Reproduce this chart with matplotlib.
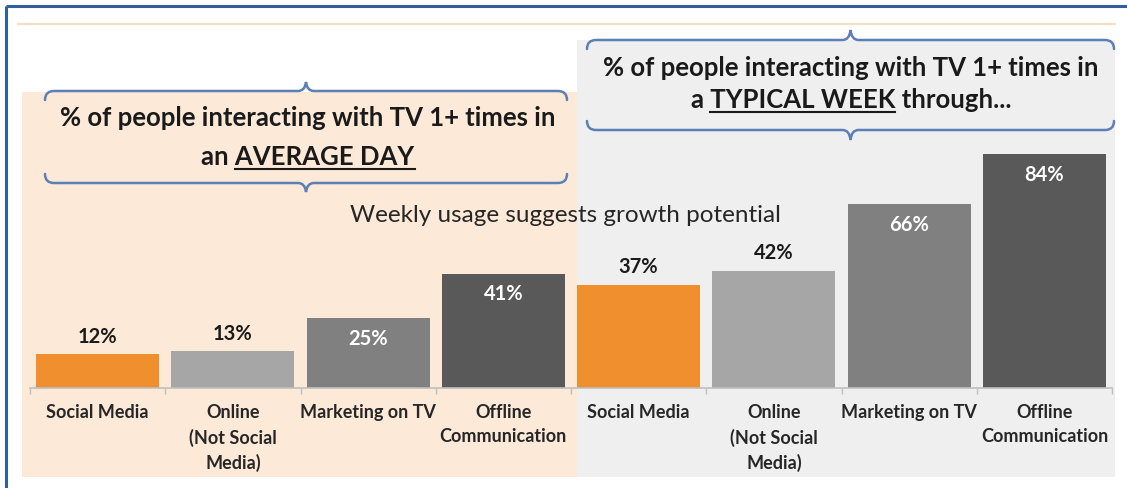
import matplotlib
matplotlib.use("Agg")
import matplotlib.pyplot as plt
from matplotlib.path import Path
from matplotlib.patches import PathPatch, Rectangle

# ---- data -------------------------------------------------------------
categories = [
    "Social Media", "Online\n(Not Social\nMedia)", "Marketing on TV",
    "Offline\nCommunication",
    "Social Media", "Online\n(Not Social\nMedia)", "Marketing on TV",
    "Offline\nCommunication",
]
values = [12, 13, 25, 41, 37, 42, 66, 84]
value_labels = ["12%", "13%", "25%", "41%", "37%", "42%", "66%", "84%"]
label_inside = [False, False, True, True, False, False, True, True]

day_title = ["% of people interacting with TV 1+ times in", "an ", "AVERAGE DAY"]
week_title = ["% of people interacting with TV 1+ times in", "a ", "TYPICAL WEEK", " through..."]
subtitle = "Weekly usage suggests growth potential"

# ---- styling ----------------------------------------------------------
ORANGE = "#EF8F2E"
bar_colors = [ORANGE, "#A6A6A6", "#808080", "#595959"] * 2
BG_DAY = "#FCE9D7"
BG_WEEK = "#EFEFF0"
BRACE = "#5B7FB6"
FRAME = "#2F5F9F"
TEXT = "#1A1A1A"
FONT = "Lato"

W, H = 1127, 488
fig = plt.figure(figsize=(W / 100, H / 100), dpi=100)
fig.patch.set_facecolor("white")

# pixel-space layer for backgrounds (behind) and annotations (in front)
bg = fig.add_axes([0, 0, 1, 1], zorder=0)
bg.set_xlim(0, W)
bg.set_ylim(H, 0)
bg.axis("off")

fg = fig.add_axes([0, 0, 1, 1], zorder=2)
fg.set_xlim(0, W)
fg.set_ylim(H, 0)
fg.axis("off")
fg.patch.set_alpha(0)

# frame and panels
bg.plot([6, 6], [6, H], color=FRAME, lw=2.2, solid_capstyle="butt")
bg.plot([6, W], [6, 6], color=FRAME, lw=2.2, solid_capstyle="butt")
bg.plot([18, 1115], [24, 24], color="#F6DFC4", lw=1.6)
bg.add_patch(Rectangle((577, 40), 1115 - 577, 477 - 40, color=BG_WEEK, lw=0))
bg.add_patch(Rectangle((22, 92), 577 - 22, 477 - 92, color=BG_DAY, lw=0))

# ---- bar chart ----------------------------------------------------------
x0_px, x1_px = 30, 1112
base_px, top_px = 387.5, 387.5 - 278
ax = fig.add_axes([x0_px / W, (H - base_px) / H,
                   (x1_px - x0_px) / W, (base_px - top_px) / H], zorder=1)
ax.patch.set_alpha(0)
pos = list(range(len(values)))
ax.bar(pos, values, width=0.91, color=bar_colors, zorder=2)
ax.set_xlim(-0.5, len(values) - 0.5)
ax.set_ylim(0, 100)
for s in ("top", "right", "left"):
    ax.spines[s].set_visible(False)
ax.spines["bottom"].set_color("#BFBFBF")
ax.spines["bottom"].set_linewidth(1.2)
ax.set_yticks([])
ax.set_xticks(pos)
ax.set_xticklabels(categories, fontsize=13, fontweight="bold", family=FONT,
                   color="#262626", linespacing=1.5, va="top")
ax.tick_params(axis="x", which="major", length=0, pad=12)
ax.set_xticks([p - 0.5 for p in pos] + [pos[-1] + 0.5], minor=True)
ax.tick_params(axis="x", which="minor", length=4, width=1.0, color="#BFBFBF",
               direction="out")

for p, v, lab, inside in zip(pos, values, value_labels, label_inside):
    if inside:
        ax.annotate(lab, (p, v), xytext=(0, -15), textcoords="offset points",
                    ha="center", va="center", fontsize=14.5, fontweight="bold",
                    family=FONT, color="white", zorder=3)
    else:
        ax.annotate(lab, (p, v), xytext=(0, 12.5), textcoords="offset points",
                    ha="center", va="center", fontsize=14.5, fontweight="bold",
                    family=FONT, color=TEXT, zorder=3)


# ---- curly braces -------------------------------------------------------
def brace(axis, xa, xb, y, tip, curl, point_up):
    s = -1 if point_up else 1          # direction of the central tip
    xc = (xa + xb) / 2
    r = 9
    verts = [
        (xa, y - s * curl), (xa, y), (xa + r, y),
        (xc - 8, y),
        (xc - 1, y), (xc, y + s * tip),
        (xc + 1, y), (xc + 8, y),
        (xb - r, y),
        (xb, y), (xb, y - s * curl),
    ]
    codes = [Path.MOVETO, Path.CURVE3, Path.CURVE3,
             Path.LINETO,
             Path.CURVE3, Path.CURVE3,
             Path.CURVE3, Path.CURVE3,
             Path.LINETO,
             Path.CURVE3, Path.CURVE3]
    axis.add_patch(PathPatch(Path(verts, codes), facecolor="none",
                             edgecolor=BRACE, lw=1.8, capstyle="round"))


brace(fg, 45, 567, 91, 9, 9, True)
brace(fg, 45, 567, 183, 9, 9, False)
brace(fg, 587, 1114, 40, 10, 9, True)
brace(fg, 587, 1114, 130, 10, 9, False)

# ---- titles -------------------------------------------------------------
renderer = fig.canvas.get_renderer()
title_kw = dict(fontsize=18.5, fontweight="bold", family=FONT, color=TEXT)


def width_px(txt):
    t = fg.text(0, 0, txt, **title_kw)
    w = t.get_window_extent(renderer).width
    t.remove()
    return w


def titled_block(cx, y1, y2, line1, parts, ul_index, ul_y):
    fg.text(cx, y1, line1, ha="center", va="center", **title_kw)
    full = "".join(parts)
    fg.text(cx, y2, full, ha="center", va="center", **title_kw)
    total = width_px(full)
    left = cx - total / 2
    end = left + width_px("".join(parts[:ul_index + 1]))
    start = end - width_px(parts[ul_index])
    fg.plot([start, end], [ul_y, ul_y], color=TEXT, lw=1.5)


titled_block(308, 118, 157, day_title[0], day_title[1:], 1, 169)
titled_block(851, 68, 100, week_title[0], week_title[1:], 1, 112)

fg.text(565, 215, subtitle, ha="center", va="center", fontsize=17.5,
        family=FONT, color="#262626")

fig.savefig("out.png", dpi=100, facecolor="white")
